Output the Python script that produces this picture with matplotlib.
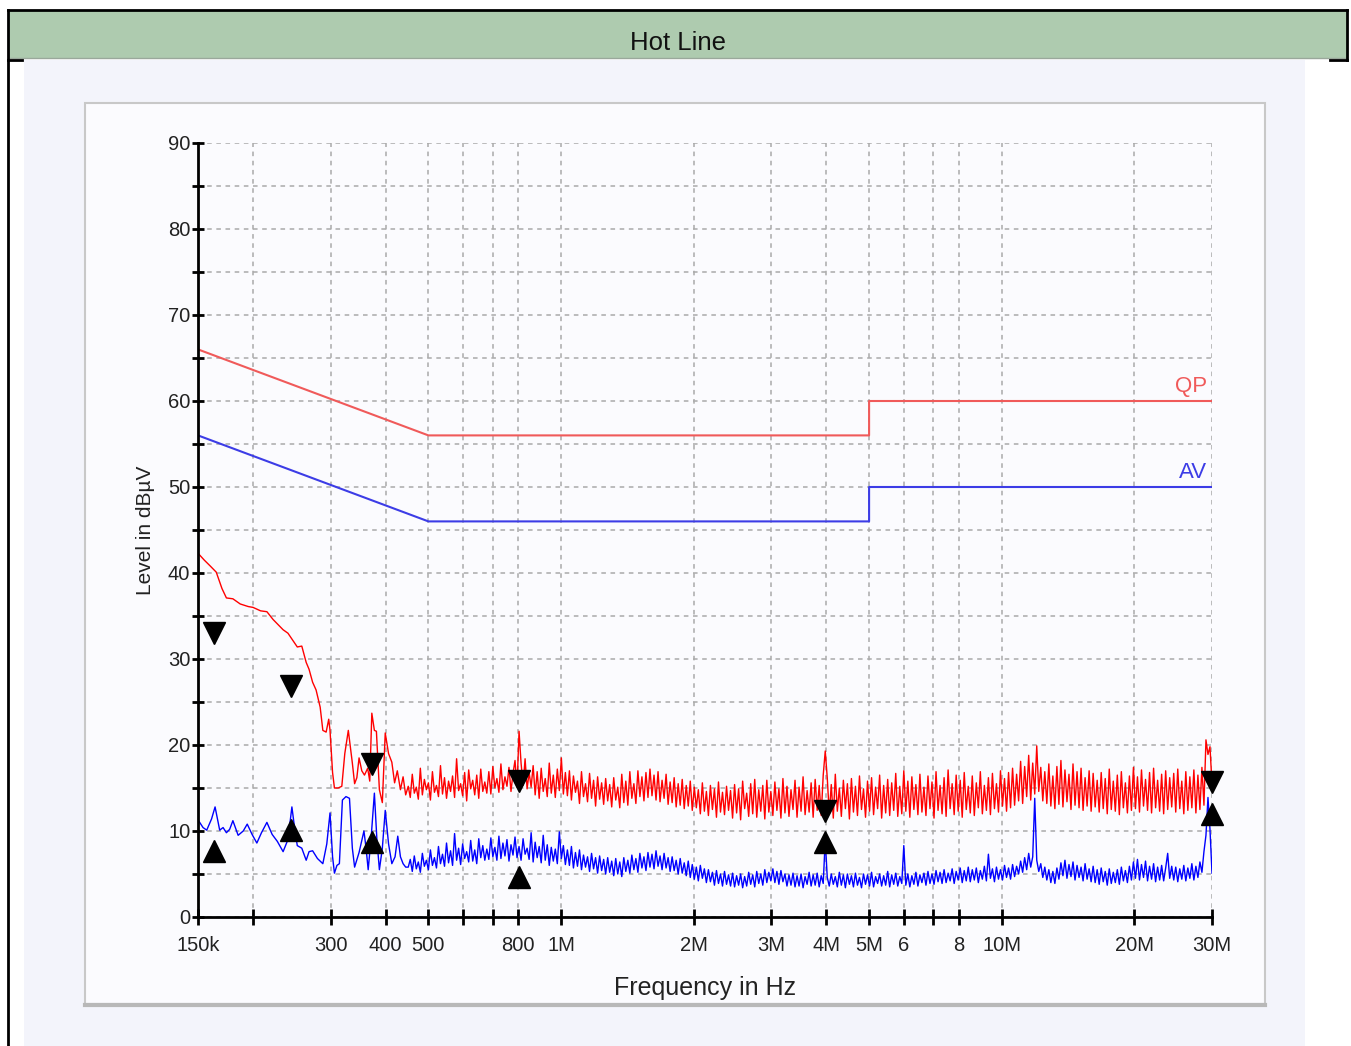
import numpy as np
import matplotlib.pyplot as plt
from matplotlib.patches import Rectangle
from matplotlib.ticker import FixedLocator, FixedFormatter, NullLocator

plt.rcParams['font.family'] = ['Liberation Sans', 'DejaVu Sans']

# limit lines (EN 55022 class B)
limit_freq = [150e3, 500e3, 5e6, 5e6, 30e6]
qp_limit = [66, 56, 56, 60, 60]
av_limit = [56, 46, 46, 50, 50]

# low band, read point by point (kHz / dBuV)
red_low_khz = [150, 155, 160, 165, 170, 174, 180, 187, 195, 200, 208, 215, 222, 228, 234, 240,
               246, 252, 258, 264, 268, 273, 278, 284, 288, 293, 297, 299, 303, 306, 312, 318,
               323, 329, 333, 336, 340, 344, 348, 353, 358, 364, 368, 372, 377, 381, 387, 393,
               399, 406, 413, 419, 425, 432, 438, 444]
red_low_level = [42.3, 41.5, 40.8, 40.1, 38.2, 37.1, 37.0, 36.4, 36.1, 36.0, 35.6, 35.5, 34.6, 34.0,
                 33.4, 33.0, 32.2, 31.4, 31.5, 29.6, 28.8, 27.3, 26.4, 24.4, 21.7, 21.5, 23.0, 21.7,
                 16.8, 15.0, 15.0, 15.2, 19.0, 21.7, 19.5, 17.9, 15.5, 16.2, 18.5, 17.0, 16.5, 17.3,
                 15.8, 23.7, 21.7, 21.6, 14.8, 13.3, 21.4, 19.0, 18.0, 15.6, 17.0, 14.8, 16.3, 14.2]

blue_low_khz = [150, 154, 157, 161, 164, 168, 171, 174, 177, 180, 185, 190, 194, 199, 204, 209,
                215, 221, 227, 234, 240, 245, 249, 252, 258, 264, 268, 273, 280, 288, 294, 299,
                303, 306, 310, 314, 319, 325, 331, 336, 340, 348, 357, 361, 365, 371, 377, 382,
                387, 393, 399, 406, 413, 420, 426, 432, 438, 444]
blue_low_level = [11.3, 10.4, 10.1, 11.4, 12.8, 10.1, 10.4, 9.8, 10.2, 11.2, 9.5, 10.0, 10.8, 9.6,
                  8.6, 9.8, 11.0, 9.6, 8.8, 7.6, 9.0, 12.8, 10.0, 8.3, 8.0, 6.6, 7.6, 7.7, 6.8, 6.2,
                  8.5, 12.1, 7.0, 5.1, 6.0, 6.2, 13.6, 14.0, 13.8, 8.0, 5.8, 7.5, 10.0, 8.0, 5.5,
                  9.5, 14.4, 9.0, 5.5, 8.0, 12.4, 8.5, 6.2, 7.0, 9.4, 7.0, 6.2, 5.8]

# receiver sweep 450 kHz .. 30 MHz, log spaced
red_sweep = [
    15.2, 13.9, 16.6, 14.4, 15.1, 13.7, 17.3, 14.2, 16.0, 14.8, 15.6, 13.6, 16.9, 14.5, 15.3, 14.0, 17.6, 14.3, 16.2, 13.8,
    15.8, 14.6, 16.4, 13.9, 18.4, 14.7, 15.5, 14.1, 16.8, 13.5, 17.1, 14.9, 15.9, 14.2, 16.5, 13.8, 17.2, 14.6, 15.7, 14.4,
    16.9, 14.3, 17.5, 15.0, 16.1, 14.5, 17.8, 14.8, 16.3, 15.2, 17.4, 14.6, 16.7, 18.2, 15.1, 21.6, 17.9, 15.3, 18.4, 14.9,
    16.8, 15.1, 17.6, 14.2, 16.9, 13.8, 17.3, 14.6, 16.1, 14.0, 17.9, 14.4, 16.5, 13.9, 17.2, 14.7, 18.5, 14.3, 16.8, 14.1,
    17.0, 13.6, 16.4, 14.5, 15.8, 13.2, 16.9, 14.0, 15.5, 13.4, 16.7, 13.8, 15.9, 12.9, 16.3, 13.7, 15.6, 13.1, 16.1, 13.5,
    15.4, 12.8, 16.2, 13.6, 15.1, 12.7, 16.6, 13.3, 15.8, 13.0, 16.9, 13.8, 15.5, 13.2, 17.0, 14.0, 16.3, 13.5, 16.8, 13.9,
    17.2, 14.1, 16.5, 13.6, 16.9, 13.4, 15.9, 13.8, 16.6, 13.1, 15.7, 13.3, 16.2, 12.8, 15.5, 13.0, 16.0, 12.6, 15.3, 12.9,
    15.8, 12.4, 15.1, 12.7, 14.8, 12.0, 15.6, 12.3, 14.6, 11.8, 15.3, 12.5, 14.9, 11.6, 15.7, 12.2, 14.5, 11.9, 15.2, 12.4,
    14.7, 11.5, 15.4, 12.1, 14.9, 11.3, 15.8, 12.6, 14.4, 11.7, 15.5, 12.0, 16.0, 11.6, 14.8, 12.3, 15.3, 11.4, 15.9, 12.2,
    14.6, 11.8, 15.7, 12.4, 14.9, 11.5, 16.1, 12.1, 15.2, 11.7, 14.8, 12.5, 15.9, 11.6, 15.1, 12.3, 16.3, 11.9, 14.7, 12.2,
    15.6, 11.6, 16.0, 12.4, 15.3, 11.8, 16.5, 19.3, 16.2, 12.0, 15.4, 11.5, 16.6, 12.3, 15.0, 11.7, 15.9, 12.6, 15.5, 11.4,
    16.1, 12.2, 15.2, 11.8, 16.4, 12.5, 14.9, 11.6, 15.8, 12.3, 16.2, 11.9, 15.1, 12.6, 16.5, 11.5, 15.3, 12.1, 16.0, 11.8,
    15.6, 12.4, 16.7, 11.7, 15.2, 12.0, 17.0, 12.3, 15.8, 11.6, 16.3, 12.5, 15.4, 11.9, 16.6, 12.2, 15.1, 11.8, 16.4, 12.6,
    15.7, 11.5, 16.9, 12.4, 15.3, 12.0, 16.2, 11.7, 17.1, 12.6, 15.5, 11.9, 16.5, 12.3, 15.9, 11.6, 16.8, 12.5, 15.2, 12.1,
    16.4, 11.8, 15.6, 12.7, 16.9, 12.0, 15.3, 12.4, 16.2, 11.9, 16.7, 12.6, 15.5, 12.2, 17.0, 12.9, 16.1, 12.3, 16.8, 12.7,
    17.3, 13.0, 16.6, 13.5, 18.1, 13.2, 17.5, 14.0, 18.8, 13.6, 17.9, 14.3, 19.9, 14.6, 17.4, 13.5, 16.9, 13.2, 17.8, 12.9,
    16.4, 12.6, 17.5, 13.1, 18.2, 12.8, 17.1, 13.4, 16.6, 12.5, 17.8, 13.0, 16.9, 12.7, 17.3, 12.4, 16.2, 12.9, 17.0, 12.3,
    16.7, 12.8, 15.9, 12.2, 16.8, 12.6, 16.1, 12.0, 17.2, 12.5, 15.8, 12.3, 16.5, 11.9, 16.9, 12.7, 15.6, 12.1, 16.4, 12.4,
    17.4, 12.6, 16.3, 12.2, 17.1, 12.9, 16.0, 12.4, 16.8, 12.1, 17.3, 12.7, 15.9, 12.3, 16.6, 12.0, 17.0, 12.5, 16.2, 12.8,
    16.7, 12.2, 17.2, 12.6, 15.8, 12.0, 16.9, 12.4, 16.3, 12.7, 17.1, 12.1, 16.5, 12.5, 17.4, 13.0, 20.6, 18.9, 19.8, 15.4,
]
blue_sweep = [
    5.8, 6.7, 5.3, 7.1, 5.6, 6.4, 5.2, 7.4, 5.9, 6.6, 5.5, 7.8, 6.0, 6.9, 5.7, 8.2, 6.2, 7.3, 5.9, 8.6,
    6.3, 7.7, 6.0, 9.7, 6.6, 8.0, 6.1, 8.5, 6.8, 7.6, 6.4, 8.9, 6.5, 7.8, 6.2, 9.1, 6.9, 8.3, 6.6, 7.9,
    6.7, 9.2, 7.0, 8.1, 6.6, 9.4, 6.8, 8.6, 7.1, 9.0, 6.5, 8.4, 7.2, 9.3, 6.9, 8.2, 6.6, 9.1, 7.3, 8.0,
    6.7, 9.8, 6.4, 8.7, 6.9, 8.2, 6.3, 9.5, 6.6, 8.4, 6.0, 8.1, 6.5, 7.9, 6.2, 9.9, 6.8, 8.3, 6.1, 7.8,
    6.0, 8.2, 5.7, 7.5, 5.9, 7.8, 5.5, 7.2, 5.8, 7.0, 5.3, 7.4, 5.6, 6.9, 5.1, 7.1, 5.4, 6.7, 5.0, 6.9,
    5.2, 6.5, 4.8, 6.8, 5.0, 6.4, 4.7, 6.9, 5.3, 6.6, 5.1, 7.2, 5.5, 6.8, 5.2, 7.4, 5.7, 7.0, 5.4, 7.5,
    5.8, 7.3, 5.6, 7.7, 5.9, 7.1, 5.5, 7.4, 5.7, 6.9, 5.3, 7.0, 5.4, 6.6, 5.0, 6.8, 5.1, 6.3, 4.8, 6.5,
    4.6, 6.1, 4.4, 5.8, 4.2, 6.0, 4.5, 5.6, 4.0, 5.5, 4.1, 5.2, 3.7, 5.4, 3.9, 5.0, 3.6, 5.3, 3.8, 4.9,
    3.6, 5.1, 3.5, 4.8, 3.7, 5.0, 3.4, 4.7, 3.6, 5.2, 3.8, 4.9, 3.5, 5.3, 3.9, 5.0, 3.7, 5.5, 4.0, 5.2,
    4.2, 5.6, 4.0, 5.3, 3.8, 5.4, 4.1, 5.0, 3.6, 4.9, 3.7, 5.1, 3.5, 4.8, 3.6, 5.0, 3.4, 4.7, 3.8, 5.2,
    3.6, 4.9, 3.7, 5.1, 3.5, 4.8, 3.9, 9.0, 4.6, 3.6, 5.0, 3.8, 4.7, 3.5, 5.2, 3.7, 4.9, 3.4, 5.0, 3.8,
    4.8, 3.5, 5.1, 3.7, 4.6, 3.4, 5.0, 3.8, 4.9, 3.6, 5.2, 3.5, 4.7, 3.9, 5.0, 3.6, 4.8, 3.7, 5.3, 3.5,
    4.9, 3.8, 5.1, 3.6, 4.7, 3.9, 8.3, 3.7, 5.0, 3.5, 4.8, 3.8, 5.2, 3.6, 4.9, 4.0, 5.1, 3.7, 5.3, 3.9,
    5.0, 3.8, 5.4, 4.1, 5.2, 3.9, 5.5, 4.0, 5.1, 4.2, 5.6, 3.9, 5.3, 4.3, 5.7, 4.0, 5.4, 4.2, 5.8, 4.1,
    5.5, 4.3, 5.7, 4.0, 5.4, 4.4, 5.9, 4.2, 7.3, 4.5, 5.6, 4.1, 5.8, 4.4, 5.5, 4.3, 6.0, 4.6, 5.7, 4.4,
    6.1, 4.7, 5.9, 5.0, 6.5, 5.2, 6.9, 5.5, 7.4, 5.8, 7.0, 13.8, 6.6, 5.3, 6.2, 4.6, 5.8, 4.3, 5.5, 4.0,
    5.3, 3.9, 5.7, 4.4, 6.3, 4.8, 6.6, 4.5, 6.1, 4.7, 6.4, 4.3, 6.0, 4.6, 5.8, 4.2, 6.2, 4.4, 5.6, 4.1,
    5.9, 4.0, 5.5, 3.8, 5.7, 4.1, 5.3, 3.7, 5.6, 3.9, 5.2, 4.0, 5.5, 3.8, 5.8, 4.2, 5.4, 4.0, 5.9, 4.3,
    6.4, 4.5, 6.7, 4.3, 6.1, 4.6, 6.5, 4.2, 5.9, 4.4, 6.2, 4.1, 5.8, 4.3, 6.0, 4.2, 5.7, 7.4, 4.5, 5.9,
    4.3, 5.8, 4.1, 5.6, 4.4, 6.0, 4.2, 5.7, 4.5, 6.2, 4.3, 5.9, 4.6, 6.4, 5.2, 7.6, 9.5, 13.9, 10.2, 5.1,
]

# final measurement markers
marker_freq = [163e3, 244e3, 372e3, 802e3, 3.97e6, 30e6]
qp_marker_level = [33.0, 26.9, 17.8, 15.8, 12.3, 15.7]
av_marker_level = [7.7, 10.1, 8.7, 4.7, 8.7, 12.0]

tick_freq = [150e3, 200e3, 300e3, 400e3, 500e3, 600e3, 700e3, 800e3, 1e6, 2e6, 3e6,
             4e6, 5e6, 6e6, 7e6, 8e6, 10e6, 20e6, 30e6]
tick_text = ['150k', '', '300', '400', '500', '', '', '800', '1M', '2M', '3M',
             '4M', '5M', '6', '', '8', '10M', '20M', '30M']

sweep_freq = np.geomspace(450e3, 30e6, len(red_sweep))
red_freq = np.concatenate([np.array(red_low_khz) * 1e3, sweep_freq])
red_level = np.concatenate([red_low_level, red_sweep])
blue_freq = np.concatenate([np.array(blue_low_khz) * 1e3, sweep_freq])
blue_level = np.concatenate([blue_low_level, blue_sweep])

W, H = 1351, 1046
fig = plt.figure(figsize=(W / 100, H / 100), dpi=100)
fig.patch.set_facecolor('white')

# page decoration drawn in pixel space
bg = fig.add_axes([0, 0, 1, 1], zorder=0)
bg.set_xlim(0, W)
bg.set_ylim(H, 0)
bg.axis('off')
bg.add_patch(Rectangle((24, 60), 1281, 990, facecolor='#f3f4fb', edgecolor='none'))
bg.add_patch(Rectangle((85, 103), 1180, 901, facecolor='#fbfbfe', edgecolor='#c8c8c8', lw=1.5))
bg.plot([85, 1265], [1005, 1005], color='#b8b8b8', lw=3)
bg.add_patch(Rectangle((8, 10), 1339, 48, facecolor='#aecbaf', edgecolor='none'))
bg.plot([8, 1347], [58, 58], color='#9aa89b', lw=1)
bg.plot([8, 1347], [10, 10], color='black', lw=2)
bg.plot([8, 8], [10, H], color='black', lw=2)
bg.plot([1347, 1347], [10, 60], color='black', lw=2)
bg.plot([8, 22], [60, 60], color='black', lw=2)
bg.plot([1330, 1347], [60, 60], color='black', lw=2)
bg.text(678, 43, 'Hot Line', ha='center', va='center', fontsize=18.5, color='#111111')

ax = fig.add_axes([198 / W, 1 - 917 / H, 1014 / W, 774 / H], zorder=1)
ax.set_facecolor('none')
ax.set_xscale('log')
ax.set_xlim(150e3, 30e6)
ax.set_ylim(0, 90)

ax.plot(limit_freq, qp_limit, color='#f05a5a', lw=1.5)
ax.plot(limit_freq, av_limit, color='#3c3ce6', lw=1.5)
ax.plot(red_freq, red_level, color='#ff0000', lw=1.0)
ax.plot(blue_freq, blue_level, color='#0000ff', lw=1.0)
ax.plot(marker_freq, qp_marker_level, 'v', color='black', ms=16, clip_on=False)
ax.plot(marker_freq, av_marker_level, '^', color='black', ms=16, clip_on=False)

ax.text(29.2e6, 60.5, 'QP', ha='right', va='bottom', color='#f05a5a', fontsize=16)
ax.text(29.2e6, 50.5, 'AV', ha='right', va='bottom', color='#3c3ce6', fontsize=16)

ax.xaxis.set_major_locator(FixedLocator(tick_freq))
ax.xaxis.set_major_formatter(FixedFormatter(tick_text))
ax.xaxis.set_minor_locator(NullLocator())
ax.set_yticks(range(0, 91, 10))
ax.set_yticks(range(5, 90, 10), minor=True)

grid_style = dict(color='#aaaaaa', lw=1.1, linestyle=(0, (3, 3)))
ax.grid(True, axis='x', which='major', **grid_style)
ax.grid(True, axis='y', which='both', **grid_style)
ax.set_axisbelow(True)

for side in ['top', 'right']:
    ax.spines[side].set_visible(False)
for side in ['left', 'bottom']:
    ax.spines[side].set_linewidth(2)

ax.tick_params(axis='x', which='major', direction='inout', length=12, width=2, pad=8,
               labelsize=14.5, labelcolor='#222222')
ax.tick_params(axis='y', which='both', direction='inout', length=9, width=2, pad=1,
               labelsize=14.5, labelcolor='#222222')

ax.set_xlabel('Frequency in Hz', fontsize=18, color='#222222', labelpad=15)
ax.set_ylabel('Level in dBµV', fontsize=15, color='#222222', labelpad=9)

fig.savefig('out.png', dpi=100)
